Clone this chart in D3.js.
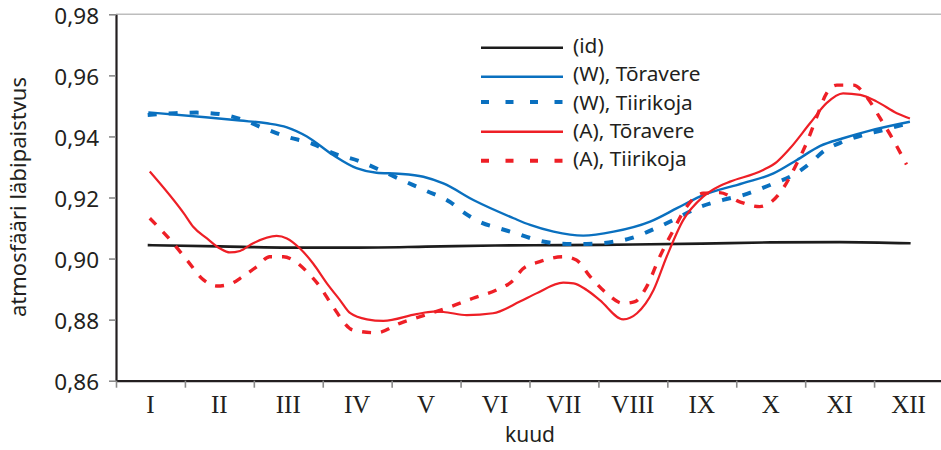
<!DOCTYPE html>
<html>
<head>
<meta charset="utf-8">
<script src="https://cdn.jsdelivr.net/npm/d3@7"></script>
<style>
  html, body { margin: 0; padding: 0; background: #fff; }
  svg { display: block; }
  text { fill: #231f20; }
</style>
</head>
<body>
<svg id="chart" width="941" height="450"></svg>
<script>
// Month labels and y-axis ticks
const monthLabels = ["I", "II", "III", "IV", "V", "VI", "VII", "VIII", "IX", "X", "XI", "XII"];
const yTickValues = [0.86, 0.88, 0.90, 0.92, 0.94, 0.96, 0.98];

// Series: [month position, atmospheric transmittance]
const idealSeries = [
  [0.96, 0.9044], [2, 0.9040], [3, 0.9036], [4, 0.9036], [5, 0.9039], [6, 0.9043],
  [7, 0.9044], [8, 0.9046], [9, 0.9049], [10, 0.9053], [11, 0.9054], [12.03, 0.9050]
];

const wToravere = [
  [0.97, 0.9479], [1.8, 0.9463], [2.3, 0.9452], [2.69, 0.9443], [2.98, 0.9430],
  [3.27, 0.9400], [3.65, 0.9339], [3.99, 0.9296], [4.28, 0.9281], [4.6, 0.9278],
  [4.96, 0.9268], [5.25, 0.9246], [5.7, 0.9190], [6.27, 0.9132], [6.51, 0.9110],
  [6.85, 0.9088], [7.28, 0.9075], [7.72, 0.9088], [8.25, 0.9121], [8.64, 0.9165],
  [8.97, 0.9203], [9.6, 0.9247], [10.04, 0.9279], [10.38, 0.9323], [10.72, 0.9369],
  [11.05, 0.9394], [11.44, 0.9419], [12.02, 0.9448]
];

const wTiirikoja = [
  [0.96, 0.9470], [1.36, 0.9476], [1.67, 0.9478], [2.01, 0.9473], [2.35, 0.9454],
  [2.64, 0.9427], [2.98, 0.9399], [3.36, 0.9375], [3.65, 0.9345], [4.02, 0.9320],
  [4.36, 0.9287], [4.62, 0.9260], [5.01, 0.9221], [5.35, 0.9185], [5.52, 0.9155],
  [5.81, 0.9117], [6.02, 0.9102], [6.34, 0.9080], [6.65, 0.9058], [7.04, 0.9048],
  [7.33, 0.9048], [7.72, 0.9055], [7.96, 0.9066], [8.35, 0.9101], [8.64, 0.9132],
  [8.93, 0.9165], [9.31, 0.9192], [9.6, 0.9208], [9.99, 0.9241], [10.33, 0.9274],
  [10.57, 0.9312], [10.76, 0.9350], [11.05, 0.9383], [11.34, 0.9405], [11.63, 0.9421],
  [12.02, 0.9445]
];

const aToravere = [
  [0.99, 0.9285], [1.5, 0.9143], [1.62, 0.9104], [1.82, 0.9066], [2.01, 0.9033],
  [2.15, 0.9020], [2.3, 0.9025], [2.49, 0.9050], [2.83, 0.9074], [2.98, 0.9066],
  [3.17, 0.9033], [3.36, 0.8984], [3.56, 0.8919], [3.75, 0.8864], [3.9, 0.8821],
  [4.14, 0.8801], [4.38, 0.8796], [4.86, 0.8818], [5.1, 0.8826], [5.25, 0.8825],
  [5.59, 0.8815], [5.97, 0.8821], [6.36, 0.8859], [6.6, 0.8886], [6.99, 0.8921],
  [7.14, 0.8919], [7.33, 0.8897], [7.52, 0.8864], [7.86, 0.8801], [8.06, 0.8821],
  [8.3, 0.8897], [8.49, 0.9006], [8.73, 0.9126], [9.02, 0.9203], [9.26, 0.9238],
  [9.41, 0.9252], [9.89, 0.9290], [10.09, 0.9317], [10.28, 0.9361], [10.57, 0.9443],
  [10.81, 0.9509], [11.05, 0.9541], [11.3, 0.9536], [11.54, 0.9514], [11.83, 0.9476],
  [12.02, 0.9459]
];

const aTiirikoja = [
  [0.99, 0.9132], [1.33, 0.9050], [1.53, 0.8995], [1.77, 0.8930], [1.96, 0.8910],
  [2.15, 0.8916], [2.35, 0.8943], [2.54, 0.8973], [2.73, 0.9006], [2.93, 0.9006],
  [3.07, 0.8995], [3.27, 0.8957], [3.46, 0.8908], [3.65, 0.8842], [3.94, 0.8766],
  [4.28, 0.8757], [4.62, 0.8788], [4.96, 0.8813], [5.35, 0.8842], [5.68, 0.8870],
  [6.02, 0.8897], [6.27, 0.8930], [6.4, 0.8966], [6.65, 0.8990], [6.99, 0.9006],
  [7.18, 0.8995], [7.38, 0.8941], [7.62, 0.8886], [7.86, 0.8853], [8.03, 0.8859],
  [8.2, 0.8908], [8.39, 0.9006], [8.59, 0.9094], [8.78, 0.9170], [9.02, 0.9214],
  [9.26, 0.9216], [9.55, 0.9186], [9.84, 0.9170], [10.01, 0.9186], [10.18, 0.9230],
  [10.38, 0.9312], [10.52, 0.9378], [10.67, 0.9465], [10.81, 0.9541], [10.96, 0.9568],
  [11.2, 0.9568], [11.39, 0.9530], [11.59, 0.9459], [11.78, 0.9388], [11.97, 0.9308]
];

const legendLabels = ["(id)", "(W), Tõravere", "(W), Tiirikoja", "(A), Tõravere", "(A), Tiirikoja"];

const BLUE = "#0a70bf", RED = "#ee1f26", BLACK = "#1c1c1c";
const series = [
  { data: idealSeries, color: BLACK, width: 2.6, dash: null, legendDash: null },
  { data: wToravere, color: BLUE, width: 2.4, dash: null, legendDash: null },
  { data: wTiirikoja, color: BLUE, width: 4, dash: "9,12", legendDash: "8,16.5" },
  { data: aToravere, color: RED, width: 2.2, dash: null, legendDash: null },
  { data: aTiirikoja, color: RED, width: 3.4, dash: "9,10", legendDash: "8,16.5" }
];

const svg = d3.select("#chart");
const plotLeft = 116, plotRight = 943, plotTop = 14.3, plotBottom = 380.7;

const x = d3.scaleLinear().domain([0.5, 12.5]).range([plotLeft, plotRight]);
const y = d3.scaleLinear().domain([0.86, 0.98]).range([plotBottom, plotTop]);

// Top frame line
svg.append("line")
  .attr("x1", plotLeft).attr("x2", 941).attr("y1", plotTop).attr("y2", plotTop)
  .attr("stroke", "#bdbdbd").attr("stroke-width", 1.6);

// Y axis
const yAxis = svg.append("g").attr("transform", `translate(${plotLeft},0)`)
  .call(d3.axisLeft(y).tickValues(yTickValues).tickSize(7).tickSizeOuter(0)
    .tickFormat(d => d3.format(".2f")(d).replace(".", ",")));
yAxis.select(".domain").attr("stroke", "#231f20").attr("stroke-width", 2.2);
yAxis.selectAll(".tick line").attr("stroke", "#8a8a8a").attr("stroke-width", 1.6);
yAxis.selectAll(".tick text")
  .attr("x", -17).attr("dy", "0.4em")
  .style("font-family", "'Noto Sans', sans-serif").style("font-size", "22.5px")
  .attr("fill", "#231f20");

// X axis: ticks at month boundaries, labels at month centres
const boundaries = d3.range(0.5, 12.5, 1);
const xAxis = svg.append("g").attr("transform", `translate(0,${plotBottom})`)
  .call(d3.axisBottom(x).tickValues(boundaries).tickSize(7).tickSizeOuter(0).tickFormat(""));
xAxis.select(".domain").attr("stroke", "#231f20").attr("stroke-width", 2.2);
xAxis.selectAll(".tick line").attr("stroke", "#8a8a8a").attr("stroke-width", 1.6);

svg.append("g").selectAll("text").data(monthLabels).join("text")
  .attr("x", (d, i) => x(i + 1)).attr("y", 413)
  .attr("text-anchor", "middle")
  .style("font-family", "'Liberation Serif', serif").style("font-size", "25px")
  .text(d => d);

// Axis titles
svg.append("text")
  .attr("x", 530).attr("y", 442).attr("text-anchor", "middle")
  .style("font-family", "'Noto Sans', sans-serif").style("font-size", "21px")
  .text("kuud");

svg.append("text")
  .attr("transform", "translate(26,197) rotate(-90)")
  .attr("text-anchor", "middle")
  .style("font-family", "'Noto Sans', sans-serif").style("font-size", "22px")
  .text("atmosfääri läbipaistvus");

// Series lines
const line = d3.line().x(d => x(d[0])).y(d => y(d[1])).curve(d3.curveMonotoneX);
svg.append("g").selectAll("path").data(series).join("path")
  .attr("d", d => line(d.data))
  .attr("fill", "none")
  .attr("stroke", d => d.color)
  .attr("stroke-width", d => d.width)
  .attr("stroke-dasharray", d => d.dash)
  .attr("stroke-linejoin", "round");

// Legend: symbol rows and evenly spaced label rows
const legend = svg.append("g");
const legendLineY = [47.7, 76.7, 101.9, 131.7, 160.7];
const legendTextY = d3.range(5).map(i => 45.9 + i * 28.3);
series.forEach((s, i) => {
  legend.append("line")
    .attr("x1", 481).attr("x2", 563)
    .attr("y1", legendLineY[i]).attr("y2", legendLineY[i])
    .attr("stroke", s.color)
    .attr("stroke-width", s.legendDash ? 4 : 2.6)
    .attr("stroke-dasharray", s.legendDash);
  legend.append("text")
    .attr("x", 573).attr("y", legendTextY[i]).attr("dy", "0.35em")
    .style("font-family", "'Noto Sans', sans-serif").style("font-size", "20.8px")
    .text(legendLabels[i]);
});
</script>
</body>
</html>
